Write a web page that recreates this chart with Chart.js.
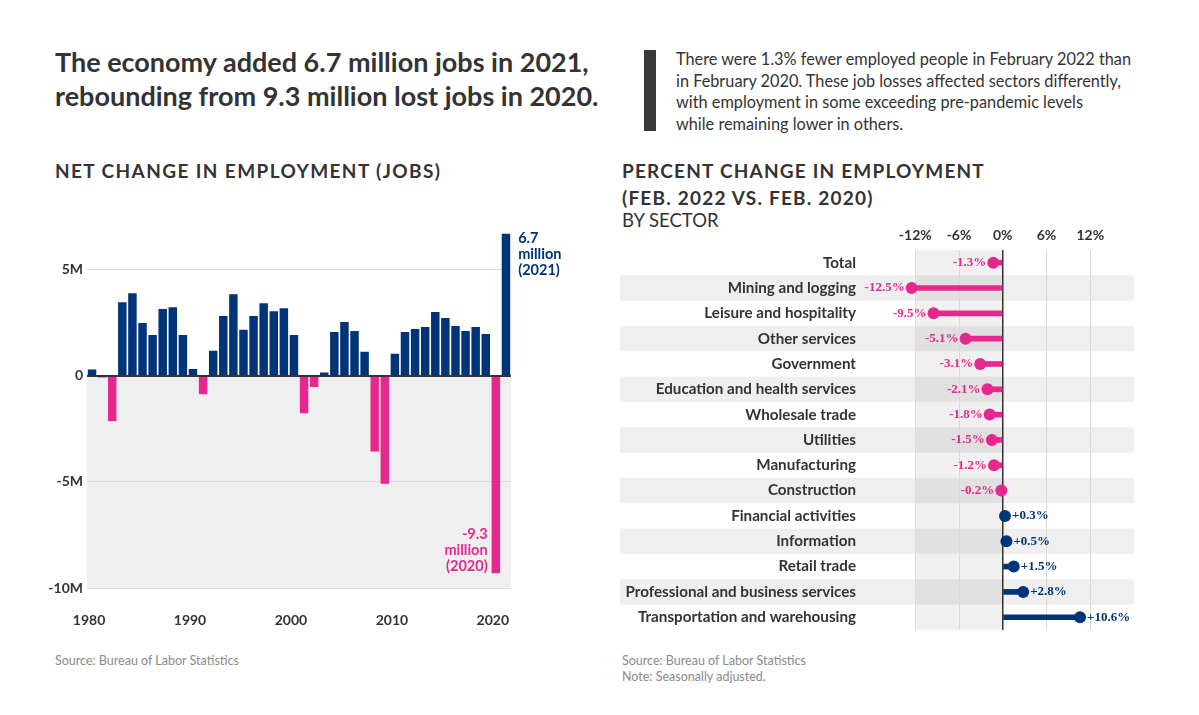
<!DOCTYPE html>
<html>
<head>
<meta charset="utf-8">
<script src="https://cdn.jsdelivr.net/npm/chart.js@4"></script>
<style>
  body { margin: 0; background: #fff; font-family: Lato, "Open Sans", sans-serif; color: #333; }
  #page { position: relative; width: 1199px; height: 715px; overflow: hidden; }
  .abs { position: absolute; }
  .title { left: 55px; top: 45px; font-weight: 700; font-size: 27px; line-height: 34px; white-space: nowrap; }
  .head { font-weight: 700; font-size: 19px; letter-spacing: 1.4px; line-height: 27px; white-space: nowrap; }
  .quoteBar { left: 644px; top: 50px; width: 12px; height: 81px; background: #3a3a3a; }
  .quote { left: 676px; top: 48px; font-size: 16.3px; line-height: 21.5px; white-space: nowrap; }
  .src { font-size: 12.5px; line-height: 16px; color: #8a8a8a; }
</style>
</head>
<body>
<div id="page">
  <div class="abs title">The economy added 6.7 million jobs in 2021,<br>rebounding from 9.3 million lost jobs in 2020.</div>
  <div class="abs quoteBar"></div>
  <div class="abs quote">There were 1.3% fewer employed people in February 2022 than<br>in February 2020. These job losses affected sectors differently,<br>with employment in some exceeding pre-pandemic levels<br>while remaining lower in others.</div>

  <div class="abs head" style="left:55px; top:157px;">NET CHANGE IN EMPLOYMENT (JOBS)</div>
  <div class="abs head" style="left:622px; top:157px; letter-spacing:1.2px;">PERCENT CHANGE IN EMPLOYMENT<br>(FEB. 2022 VS. FEB. 2020)</div>
  <div class="abs" style="left:622px; top:208px; font-size:18.5px; line-height:24px;">BY SECTOR</div>

  <canvas id="netChart" class="abs" style="left:40px; top:215px;" width="540" height="425"></canvas>
  <canvas id="sectorChart" class="abs" style="left:615px; top:225px;" width="530" height="415"></canvas>

  <div class="abs src" style="left:55px; top:653px;">Source: Bureau of Labor Statistics</div>
  <div class="abs src" style="left:622px; top:653px;">Source: Bureau of Labor Statistics<br>Note: Seasonally adjusted.</div>
</div>

<script>
// ---------- data: net change in employment, millions of jobs ----------
const years = [1980, 1981, 1982, 1983, 1984, 1985, 1986, 1987, 1988, 1989,
               1990, 1991, 1992, 1993, 1994, 1995, 1996, 1997, 1998, 1999,
               2000, 2001, 2002, 2003, 2004, 2005, 2006, 2007, 2008, 2009,
               2010, 2011, 2012, 2013, 2014, 2015, 2016, 2017, 2018, 2019,
               2020, 2021];
const netChange = [0.30, -0.08, -2.13, 3.47, 3.89, 2.49, 1.93, 3.15, 3.24, 1.93,
                   0.33, -0.87, 1.18, 2.82, 3.85, 2.17, 2.82, 3.43, 3.05, 3.19,
                   1.93, -1.76, -0.53, 0.16, 2.07, 2.54, 2.12, 1.14, -3.57, -5.08,
                   1.04, 2.07, 2.21, 2.31, 3.01, 2.73, 2.35, 2.12, 2.31, 1.98,
                   -9.3, 6.7];
const netTicks = [-10, -5, 0, 5];
const netTickLabels = ["-10M", "-5M", "0", "5M"];
const gainNote = ["6.7", "million", "(2021)"];
const lossNote = ["-9.3", "million", "(2020)"];

// ---------- data: percent change by sector, Feb 2022 vs Feb 2020 ----------
const sectors = ["Total", "Mining and logging", "Leisure and hospitality", "Other services",
                 "Government", "Education and health services", "Wholesale trade", "Utilities",
                 "Manufacturing", "Construction", "Financial activities", "Information",
                 "Retail trade", "Professional and business services", "Transportation and warehousing"];
const pctChange = [-1.3, -12.5, -9.5, -5.1, -3.1, -2.1, -1.8, -1.5, -1.2, -0.2, 0.3, 0.5, 1.5, 2.8, 10.6];
const pctTicks = [-12, -6, 0, 6, 12];

const NAVY = "#003478";
const PINK = "#e5288e";
const INK = "#333333";
const FONT = "Lato, 'Open Sans', sans-serif";
const NUM_FONT = "'Liberation Serif', 'DejaVu Serif', serif";

// ====================== LEFT: net change bars ======================
const netBackground = {
  id: "netBackground",
  beforeDraw(chart) {
    const { ctx, chartArea: a, scales: { y } } = chart;
    const y0 = y.getPixelForValue(0);
    ctx.save();
    ctx.fillStyle = "#efefef";
    ctx.fillRect(a.left, y0, a.right - a.left, a.bottom - y0);
    ctx.restore();
  }
};

const netNotes = {
  id: "netNotes",
  afterDatasetsDraw(chart) {
    const { ctx } = chart;
    const bars = chart.getDatasetMeta(0).data;
    const gain = bars[years.indexOf(2021)];
    const loss = bars[years.indexOf(2020)];
    ctx.save();
    ctx.font = "700 14.5px " + FONT;
    ctx.textBaseline = "middle";
    ctx.fillStyle = NAVY;
    ctx.textAlign = "left";
    gainNote.forEach((t, i) => ctx.fillText(t, gain.x + gain.width / 2 + 8, gain.y + 5 + i * 16));
    ctx.fillStyle = PINK;
    ctx.textAlign = "right";
    lossNote.forEach((t, i) => ctx.fillText(t, loss.x - loss.width / 2 - 4, loss.y - 7 - (2 - i) * 16));
    ctx.restore();
  }
};

new Chart(document.getElementById("netChart"), {
  type: "bar",
  data: {
    labels: years,
    datasets: [{
      data: netChange,
      backgroundColor: netChange.map(v => v < 0 ? PINK : NAVY),
      categoryPercentage: 1,
      barPercentage: 0.84
    }]
  },
  options: {
    responsive: false,
    animation: false,
    layout: { padding: { top: 9, right: 69, bottom: 12, left: 0 } },
    plugins: { legend: { display: false }, tooltip: { enabled: false } },
    scales: {
      x: {
        grid: { display: false, drawTicks: false },
        border: { display: false },
        afterFit: s => { s.height = 40; },
        ticks: {
          autoSkip: false, maxRotation: 0, padding: 24, labelOffset: -3, color: INK,
          font: { family: FONT, size: 14, weight: "700" },
          callback: (v, i) => years[i] % 10 === 0 ? String(years[i]) : ""
        }
      },
      y: {
        min: -10, max: 7,
        border: { display: false },
        afterFit: s => { s.width = 47; },
        afterBuildTicks: s => { s.ticks = netTicks.map(v => ({ value: v })); },
        grid: {
          drawTicks: false,
          color: c => c.tick.value === 0 ? INK : "#dcdcdc",
          lineWidth: c => c.tick.value === 0 ? 2 : 1
        },
        ticks: {
          padding: 4, color: INK,
          font: { family: FONT, size: 14, weight: "700" },
          callback: v => netTickLabels[netTicks.indexOf(v)]
        }
      }
    }
  },
  plugins: [netBackground, netNotes]
});

// ====================== RIGHT: sector lollipops ======================
const rowBands = {
  id: "rowBands",
  beforeDraw(chart) {
    const { ctx, chartArea: a, scales: { x, y } } = chart;
    const step = (a.bottom - a.top) / sectors.length;
    ctx.save();
    ctx.fillStyle = "#efefef";
    sectors.forEach((s, i) => {
      if (i % 2 === 1) {
        const yc = y.getPixelForValue(i);
        ctx.fillRect(5, yc - step / 2, a.right - 5, step);
      }
    });
    // shaded band between -12% and 0
    const xl = x.getPixelForValue(pctTicks[0]);
    const xr = x.getPixelForValue(0);
    ctx.fillStyle = "rgba(0,0,0,0.06)";
    ctx.fillRect(xl, a.top, xr - xl, a.bottom - a.top);
    ctx.restore();
  }
};

const valueLabels = {
  id: "valueLabels",
  afterDatasetsDraw(chart) {
    const { ctx } = chart;
    const pts = chart.getDatasetMeta(1).data;
    ctx.save();
    ctx.font = "700 13px " + NUM_FONT;
    ctx.textBaseline = "middle";
    pts.forEach((p, i) => {
      const v = pctChange[i];
      if (v < 0) {
        ctx.fillStyle = PINK;
        ctx.textAlign = "right";
        ctx.fillText(v.toFixed(1) + "%", p.x - 7, p.y);
      } else {
        ctx.fillStyle = NAVY;
        ctx.textAlign = "left";
        ctx.fillText("+" + v.toFixed(1) + "%", p.x + 7, p.y);
      }
    });
    ctx.restore();
  }
};

const signColors = pctChange.map(v => v < 0 ? PINK : NAVY);

new Chart(document.getElementById("sectorChart"), {
  type: "bar",
  data: {
    labels: sectors,
    datasets: [{
      type: "bar",
      data: pctChange,
      backgroundColor: signColors,
      barThickness: 5,
      order: 2
    }, {
      type: "line",
      data: pctChange,
      showLine: false,
      pointRadius: 6,
      pointBorderWidth: 0,
      pointBackgroundColor: signColors,
      order: 1
    }]
  },
  options: {
    indexAxis: "y",
    responsive: false,
    animation: false,
    layout: { padding: { top: 0, right: 11, bottom: 7, left: 0 } },
    plugins: { legend: { display: false }, tooltip: { enabled: false } },
    scales: {
      x: {
        position: "top",
        min: -20, max: 18,
        border: { display: false },
        afterFit: s => { s.height = 25; },
        afterBuildTicks: s => { s.ticks = pctTicks.map(v => ({ value: v })); },
        grid: {
          drawTicks: false,
          color: c => c.tick.value === 0 ? INK : "#dadada",
          lineWidth: c => c.tick.value === 0 ? 1.5 : 1
        },
        ticks: {
          padding: 6, color: INK,
          font: { family: FONT, size: 14, weight: "700" },
          callback: v => v + "%"
        }
      },
      y: {
        border: { display: false },
        grid: { display: false, drawTicks: false },
        afterFit: s => { s.width = 242; },
        ticks: {
          padding: 1, color: INK,
          font: { family: FONT, size: 15.2, weight: "700" }
        }
      }
    }
  },
  plugins: [rowBands, valueLabels]
});
</script>
</body>
</html>
